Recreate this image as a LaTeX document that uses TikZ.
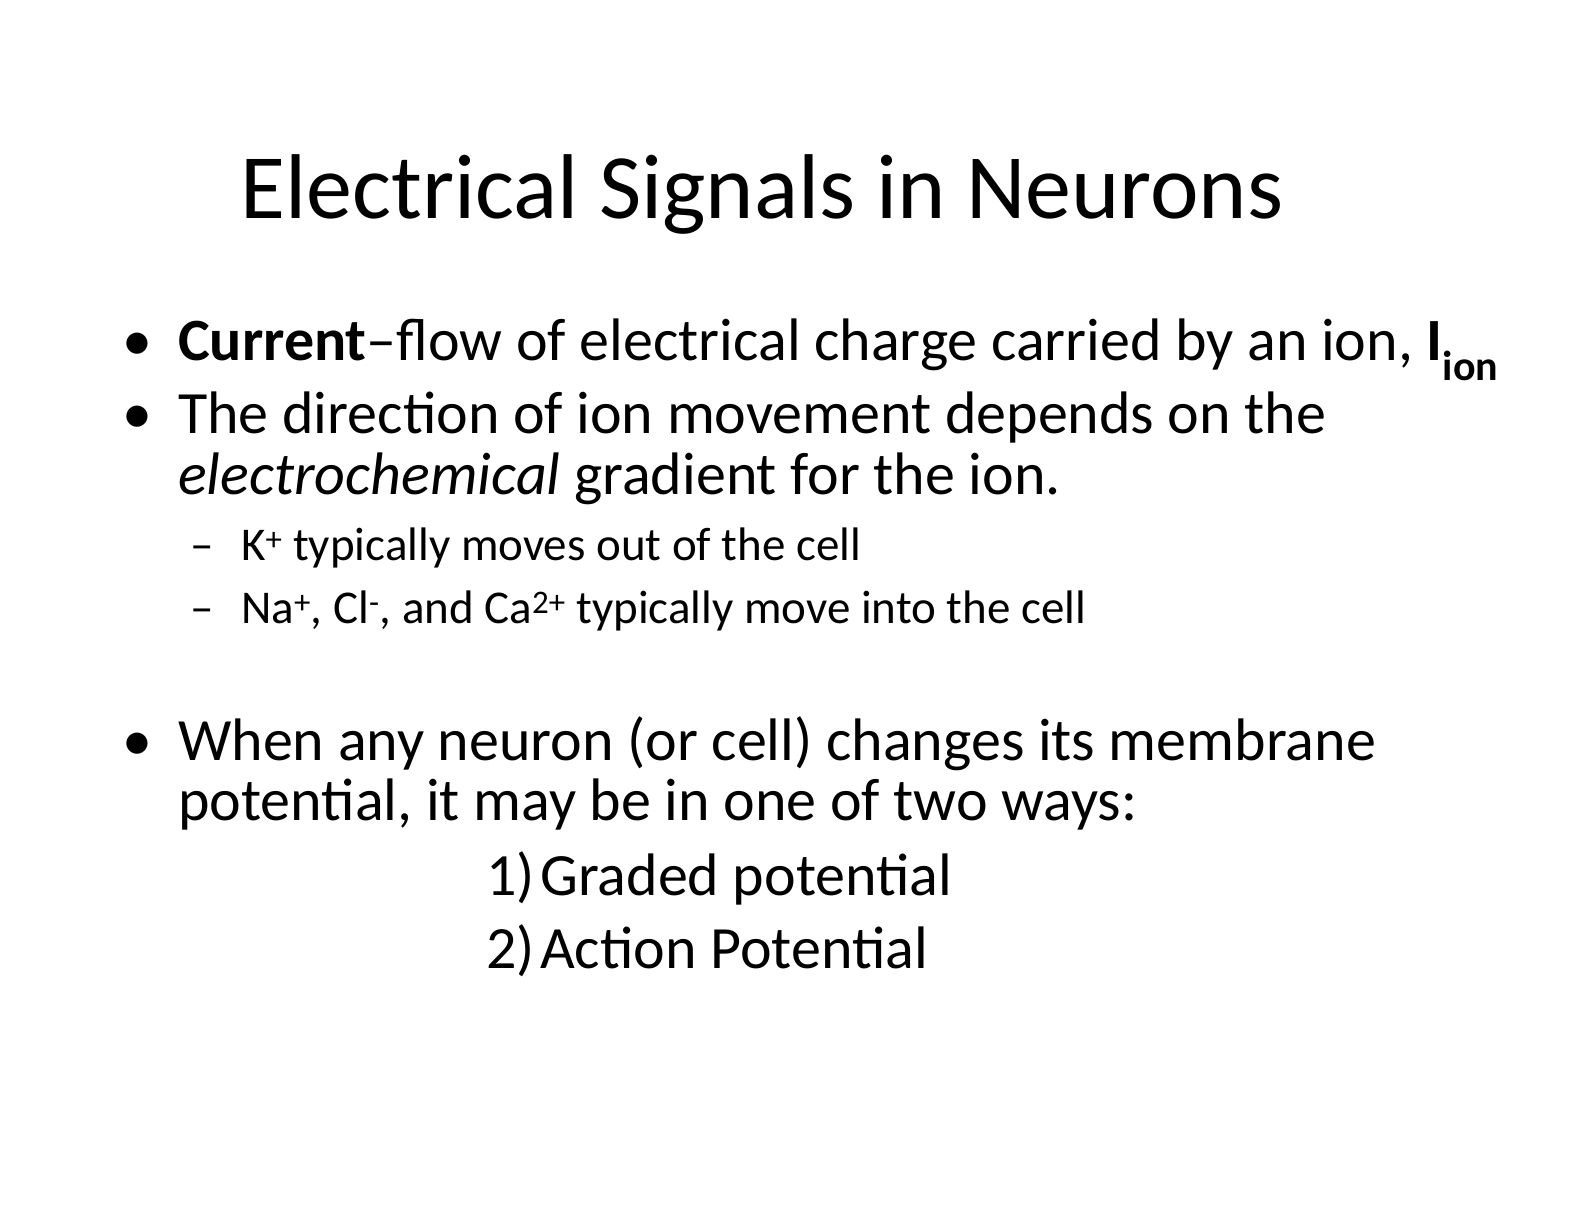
\documentclass[tikz,border=0pt]{standalone}
\usepackage{fontspec}
\setmainfont{Carlito}
\begin{document}
\begin{tikzpicture}[x=1pt,y=-1pt,
  t/.style={anchor=base west,inner sep=0pt,font=\fontsize{60}{72}\selectfont},
  s/.style={anchor=base west,inner sep=0pt,font=\fontsize{47}{56}\selectfont}]
\useasboundingbox[fill=white] (0,0) rectangle (1584,1224);
\node[anchor=base,inner sep=0pt,font=\fontsize{92}{110}\selectfont] (title) at (762,218) {Electrical Signals in Neurons};
\node[t] (b1) at (122,360) {•};
\node[t] (l1) at (178,360) {\textbf{Current}--flow of electrical charge carried by an ion, \textbf{I\textsubscript{ion}}};
\node[t] (b2) at (122,433) {•};
\node[t] (l2) at (178,433) {The direction of ion movement depends on the};
\node[t] (l3) at (178,494) {\textit{electrochemical} gradient for the ion.};
\node[s] (d1) at (190,560) {–};
\node[s] (s1) at (241,560) {K\textsuperscript{+} typically moves out of the cell};
\node[s] (d2) at (190,623) {–};
\node[s] (s2) at (241,623) {Na\textsuperscript{+}, Cl\textsuperscript{-}, and Ca\textsuperscript{2+} typically move into the cell};
\node[t] (b3) at (122,760) {•};
\node[t] (l4) at (178,760) {When any neuron (or cell) changes its membrane};
\node[t] (l5) at (178,820) {potential, it may be in one of two ways:};
\node[t] (n1) at (486,895) {1)};
\node[t] (g1) at (540,895) {Graded potential};
\node[t] (n2) at (486,968) {2)};
\node[t] (g2) at (540,968) {Action Potential};
\end{tikzpicture}
\end{document}
